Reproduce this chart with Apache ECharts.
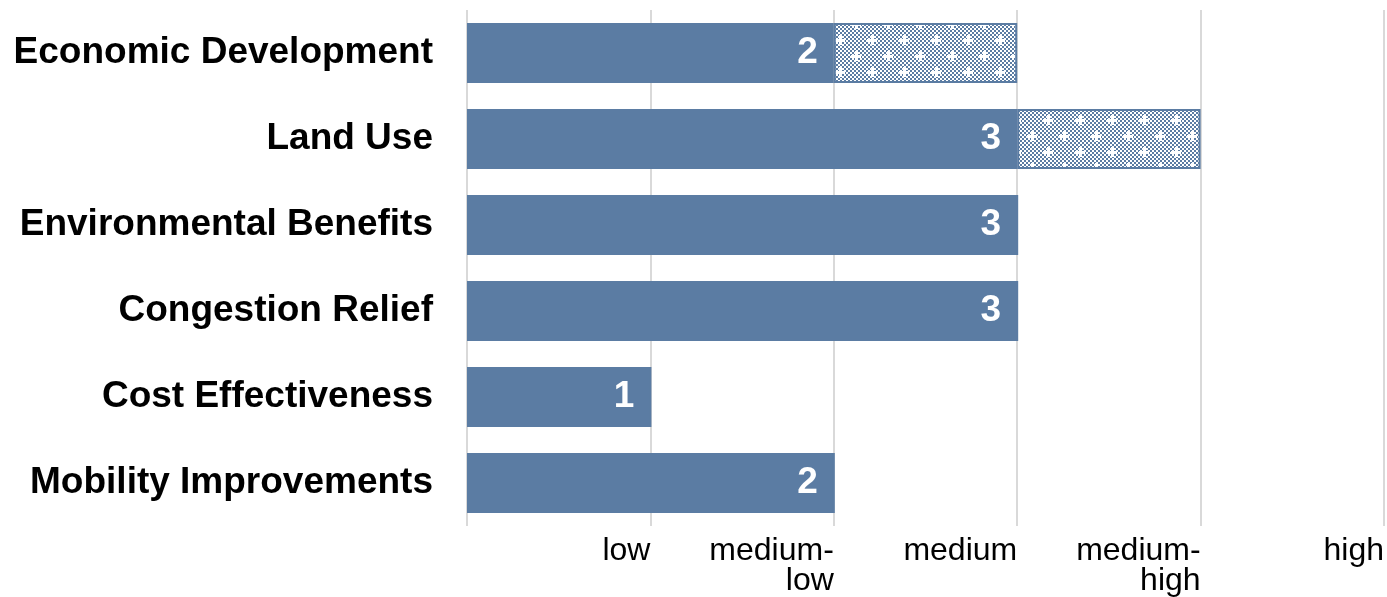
<!DOCTYPE html>
<html><head><meta charset="utf-8">
<script src="https://cdn.jsdelivr.net/npm/echarts@6/dist/echarts.min.js"></script>
<style>html,body{margin:0;padding:0;background:#fff;overflow:hidden}#c{width:1387px;height:597px}</style>
</head><body><div id="c"></div>
<script>
const categories = ['Economic Development','Land Use','Environmental Benefits','Congestion Relief','Cost Effectiveness','Mobility Improvements'];
const ratingValues = [2,3,3,3,1,2];
const potentialExtra = [1,1,0,0,0,0];
const tickLabels = ['', 'low', 'medium-\nlow', 'medium', 'medium-\nhigh', 'high'];

const barColor = '#5b7ca3';
function makePattern(){
  const c = document.createElement('canvas');
  c.width = 32; c.height = 32;
  const g = c.getContext('2d');
  g.fillStyle = '#fff'; g.fillRect(0,0,32,32);
  g.fillStyle = barColor;
  for (let y=0;y<16;y++) for (let x=0;x<16;x++) if ((x+y)%2===0) g.fillRect(x*2,y*2,2,2);
  g.fillStyle = '#fff';
  const plus = (cx,cy)=>{ g.fillRect(cx-5,cy-1,10,3); g.fillRect(cx-1,cy-5,3,10); };
  plus(8,8); plus(24,24);
  return c;
}

const chart = echarts.init(document.getElementById('c'));
chart.setOption({
  animation:false,
  grid:{left:467,right:0,top:10,bottom:68,containLabel:false},
  xAxis:{type:'value',min:0,max:5,interval:1,
    axisLine:{show:false},axisTick:{show:false},
    splitLine:{show:true,lineStyle:{color:'#d9d9d9',width:2}},
    axisLabel:{formatter:v=>tickLabels[v]||'',align:'right',margin:10,
      fontFamily:'Liberation Sans, Arial',fontSize:32,color:'#000',lineHeight:30,verticalAlign:'top',
      showMaxLabel:true}},
  yAxis:{type:'category',data:categories,inverse:true,
    axisLine:{show:false},axisTick:{show:false},
    axisLabel:{fontFamily:'Liberation Sans, Arial',fontWeight:'bold',fontSize:37,color:'#000',margin:34}},
  series:[
    {type:'bar',stack:'s',data:ratingValues,barWidth:60,itemStyle:{color:barColor},
     label:{show:true,position:'insideRight',distance:16,color:'#fff',fontWeight:'bold',
       fontFamily:'Liberation Sans, Arial',fontSize:37}},
    {type:'bar',stack:'s',data:potentialExtra,barWidth:60,
     itemStyle:{color:{image:makePattern(),repeat:'repeat'},borderColor:barColor,borderWidth:2}}
  ]
});
</script></body></html>
